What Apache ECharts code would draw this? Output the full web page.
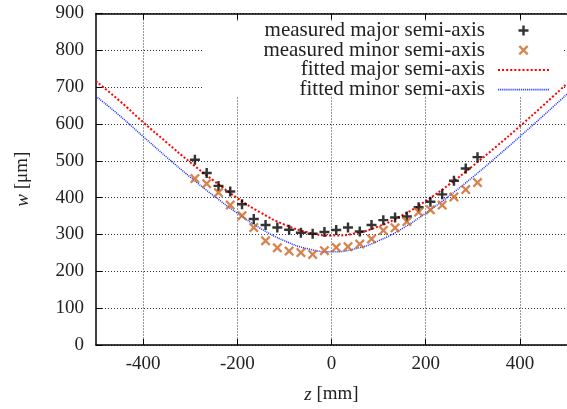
<!DOCTYPE html>
<html><head><meta charset="utf-8">
<script src="https://cdn.jsdelivr.net/npm/echarts@6/dist/echarts.min.js"></script>
<style>html,body{margin:0;padding:0;background:#fff}#c{width:567px;height:409px}</style>
</head><body><div id="c"></div>
<script>
// ---- data ----
const zMeasured = [-290,-265,-240,-215,-190,-165,-140,-115,-90,-65,-40,-15,10,35,60,85,110,135,160,185,210,235,260,285,310];
const majorMeasured = [503,467,432,417,382,342,326,319,313,305,302,307,312,319,308,326,339,346,349,374,389,409,446,479,510];
const minorMeasured = [452,438,414,380,351,319,283,264,255,251,246,256,265,267,274,288,311,318,335,361,367,380,402,422,441];
const zFit = [-500,-450,-400,-350,-300,-250,-200,-150,-100,-50,0,50,100,150,200,250,300,350,400,450,500];
const majorFit = [716,663,605,550,496,446,399,359,327,306,297,303,322,352,391,436,486,539,594,651,710];
const minorFit = [675,623,566,510,456,405,358,316,283,261,253,261,283,316,358,405,456,510,566,623,681];
const xTickValues = [-400,-200,0,200,400];
const seriesNames = ['measured major semi-axis','measured minor semi-axis','fitted major semi-axis','fitted minor semi-axis'];

const zip = (xs, ys) => xs.map((x, i) => [x, ys[i]]);
const FONT = 'Liberation Serif';
const plusPath = 'path://M3.4,0H5.6V3.4H9V5.6H5.6V9H3.4V5.6H0V3.4H3.4Z';
const crossPath = 'path://M0,1.3L1.3,0L4,2.7L6.7,0L8,1.3L5.3,4L8,6.7L6.7,8L4,5.3L1.3,8L0,6.7L2.7,4Z';
// dotted legend samples (row of small squares)
function dotRow(dot, gap, len, h) {
  let p = 'path://';
  for (let x = 0; x + dot <= len; x += dot + gap) p += 'M' + x + ',0h' + dot + 'v' + h + 'h-' + dot + 'Z';
  return p;
}
const redSample = dotRow(2, 2, 51, 2);
const blueSample = dotRow(1.2, 0.8, 51, 1.8);
const gridLine = {show: true, lineStyle: {color: '#333', width: 1, type: [1, 2]}};

const chart = echarts.init(document.getElementById('c'), null, {renderer: 'canvas'});
chart.setOption({
  animation: false,
  backgroundColor: '#fff',
  textStyle: {fontFamily: FONT},
  grid: {left: 96, top: 13.5, bottom: 61.3, right: -7.5, containLabel: false},
  graphic: [{
    type: 'rect', z: 1, silent: true,
    shape: {x: 203, y: 21, width: 360, height: 76},
    style: {fill: '#fff'}
  }],
  legend: {
    orient: 'vertical', align: 'right', right: 13, top: 15,
    itemWidth: 51, itemHeight: 10, itemGap: -1.3, z: 4,
    selectedMode: false,
    textStyle: {fontFamily: FONT, fontSize: 21, color: '#222', padding: [0, 8, 0, 0]},
    data: [
      {name: seriesNames[0]},
      {name: seriesNames[1]},
      {name: seriesNames[2], icon: redSample},
      {name: seriesNames[3], icon: blueSample}
    ]
  },
  xAxis: [{
    type: 'value', min: -500, max: 500, position: 'bottom',
    name: '{i|z} [mm]', nameLocation: 'middle', nameGap: 40,
    nameTextStyle: {fontFamily: FONT, fontSize: 19, color: '#222',
      rich: {i: {fontFamily: FONT, fontSize: 19, fontStyle: 'italic', color: '#222'}}},
    axisLine: {onZero: false, lineStyle: {color: '#000', width: 1.5}},
    axisTick: {inside: true, length: 6, lineStyle: {color: '#000', width: 1}, customValues: xTickValues},
    axisLabel: {customValues: xTickValues, fontFamily: FONT, fontSize: 19, color: '#222', margin: 10},
    splitLine: gridLine
  }, {
    type: 'value', min: -500, max: 500, position: 'top', z: 5,
    axisLine: {onZero: false, lineStyle: {color: '#000', width: 1.5}},
    axisTick: {inside: true, length: 6, lineStyle: {color: '#000', width: 1}, customValues: xTickValues},
    axisLabel: {show: false, customValues: xTickValues},
    splitLine: {show: false}
  }],
  yAxis: {
    type: 'value', min: 0, max: 900, interval: 100,
    name: '{i|w} [μm]', nameLocation: 'middle', nameGap: 64,
    nameTextStyle: {fontFamily: FONT, fontSize: 19, color: '#222',
      rich: {i: {fontFamily: FONT, fontSize: 19, fontStyle: 'italic', color: '#222'}}},
    axisLine: {show: true, onZero: false, lineStyle: {color: '#000', width: 1.5}},
    axisTick: {inside: true, length: 6, lineStyle: {color: '#000', width: 1}},
    axisLabel: {fontFamily: FONT, fontSize: 19, color: '#222', margin: 12},
    splitLine: gridLine
  },
  series: [{
    name: seriesNames[0], type: 'scatter', z: 3,
    symbol: plusPath, symbolSize: 10,
    itemStyle: {color: '#000'},
    data: zip(zMeasured, majorMeasured)
  }, {
    name: seriesNames[1], type: 'scatter', z: 3,
    symbol: crossPath, symbolSize: 10,
    itemStyle: {color: '#cc6420'},
    data: zip(zMeasured, minorMeasured)
  }, {
    name: seriesNames[2], type: 'line', smooth: true, symbol: 'none', z: 2,
    lineStyle: {color: '#ff0000', width: 2, type: [2, 2]},
    itemStyle: {color: '#ff0000'},
    data: zip(zFit, majorFit)
  }, {
    name: seriesNames[3], type: 'line', smooth: true, symbol: 'none', z: 2,
    lineStyle: {color: '#1a2aff', width: 1.5, type: [1, 1]},
    itemStyle: {color: '#3344ff'},
    data: zip(zFit, minorFit)
  }]
});
</script></body></html>
